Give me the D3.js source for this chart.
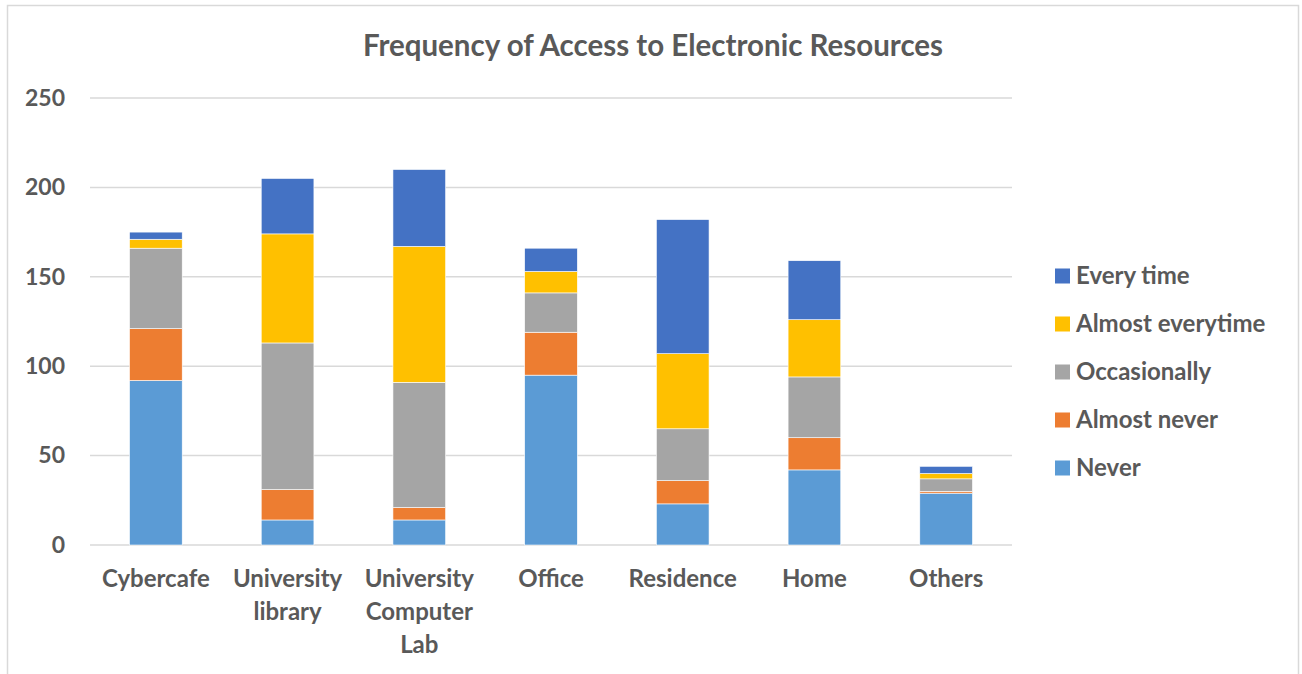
<!DOCTYPE html>
<html>
<head>
<meta charset="utf-8">
<script src="https://cdn.jsdelivr.net/npm/d3@7"></script>
<style>
  html, body { margin: 0; padding: 0; background: #fff; }
  svg { display: block; font-family: Lato, "Open Sans", sans-serif; }
</style>
</head>
<body>
<svg id="chart" width="1302" height="674"></svg>
<script>
// Locations where respondents access electronic resources
const categories = ["Cybercafe", "University library", "University Computer Lab", "Office", "Residence", "Home", "Others"];
// Label lines for the category axis
const categoryLines = [["Cybercafe"], ["University", "library"], ["University", "Computer", "Lab"], ["Office"], ["Residence"], ["Home"], ["Others"]];

// Stacked series, bottom to top
const seriesNames = ["Never", "Almost never", "Occasionally", "Almost everytime", "Every time"];
const never           = [92, 14, 14, 95, 23, 42, 29];
const almostNever     = [29, 17,  7, 24, 13, 18,  1];
const occasionally    = [45, 82, 70, 22, 29, 34,  7];
const almostEverytime = [ 5, 61, 76, 12, 42, 32,  3];
const everyTime       = [ 4, 31, 43, 13, 75, 33,  4];
const seriesValues = [never, almostNever, occasionally, almostEverytime, everyTime];
const seriesColors = ["#5B9BD5", "#ED7D31", "#A5A5A5", "#FFC000", "#4472C4"];

const yTicks = [0, 50, 100, 150, 200, 250];

const svg = d3.select("#chart");
const W = 1302, H = 674;
const margin = { left: 90, right: 290, top: 98, bottom: 129 };
const plotW = W - margin.left - margin.right;
const plotH = H - margin.top - margin.bottom;
const textColor = "#595959";

// Outer frame
svg.append("rect")
  .attr("x", 7.5).attr("y", 5.5)
  .attr("width", 1291).attr("height", 680)
  .attr("fill", "#fff").attr("stroke", "#d9d9d9").attr("stroke-width", 1.5);

// Title
svg.append("text")
  .attr("x", 653).attr("y", 56)
  .attr("text-anchor", "middle")
  .attr("fill", textColor)
  .style("font-size", "29.5px").style("font-weight", "bold")
  .text("Frequency of Access to Electronic Resources");

const g = svg.append("g").attr("transform", `translate(${margin.left},${margin.top})`);

const x = d3.scaleBand().domain(categories).range([0, plotW]).paddingInner(0.6).paddingOuter(0.3);
const y = d3.scaleLinear().domain([0, 250]).range([plotH, 0]);

// Gridlines
g.append("g").selectAll("line").data(yTicks).join("line")
  .attr("x1", 0).attr("x2", plotW)
  .attr("y1", d => y(d)).attr("y2", d => y(d))
  .attr("stroke", "#d9d9d9").attr("stroke-width", 1.5);

// Y axis labels
const yAxis = g.append("g")
  .call(d3.axisLeft(y).tickValues(yTicks).tickSize(0).tickPadding(25));
yAxis.select(".domain").remove();
yAxis.selectAll("text")
  .attr("fill", textColor)
  .style("font-family", "Lato, 'Open Sans', sans-serif")
  .style("font-size", "23px").style("font-weight", "bold");

// Stack the series
const rows = categories.map((c, i) => {
  const r = { category: c };
  seriesNames.forEach((s, k) => { r[s] = seriesValues[k][i]; });
  return r;
});
const stacked = d3.stack().keys(seriesNames)(rows);

g.append("g").selectAll("g").data(stacked).join("g")
  .attr("fill", (d, k) => seriesColors[k])
  .selectAll("rect").data(d => d).join("rect")
  .attr("x", d => x(d.data.category))
  .attr("width", x.bandwidth())
  .attr("y", d => y(d[1]))
  .attr("height", d => y(d[0]) - y(d[1]))
  .attr("stroke", "#fff").attr("stroke-width", 0.6);

// Category axis labels (multi-line)
const xl = g.append("g").attr("transform", `translate(0,${plotH})`);
categories.forEach((c, i) => {
  const t = xl.append("text")
    .attr("x", x(c) + x.bandwidth() / 2)
    .attr("y", 42)
    .attr("text-anchor", "middle")
    .attr("fill", textColor)
    .style("font-size", "24px").style("font-weight", "bold");
  categoryLines[i].forEach((line, j) => {
    t.append("tspan").attr("x", x(c) + x.bandwidth() / 2).attr("dy", j === 0 ? 0 : 33).text(line);
  });
});

// Legend, top entry is the top of the stack
const legendOrder = seriesNames.map((s, k) => k).reverse();
const legend = svg.append("g").attr("transform", "translate(1055,276)");
legendOrder.forEach((k, idx) => {
  const row = legend.append("g").attr("transform", `translate(0,${idx * 48})`);
  row.append("rect").attr("x", 0).attr("y", -7.5).attr("width", 15).attr("height", 15).attr("fill", seriesColors[k]);
  row.append("text").attr("x", 21).attr("y", 0).attr("dy", "0.35em")
    .attr("fill", textColor)
    .style("font-size", "24px").style("font-weight", "bold")
    .text(seriesNames[k]);
});
</script>
</body>
</html>
